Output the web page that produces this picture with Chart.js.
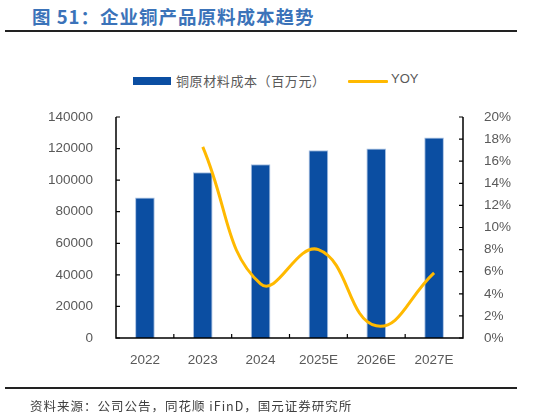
<!DOCTYPE html>
<html>
<head>
<meta charset="utf-8">
<script src="https://cdn.jsdelivr.net/npm/chart.js@4/dist/chart.umd.min.js"></script>
<style>
  html, body { margin: 0; padding: 0; background: #fff; }
  #wrap { position: relative; width: 533px; height: 418px; overflow: hidden; }
  #title { position: absolute; left: 32px; top: 3px; font: bold 18.5px "Noto Sans CJK SC", sans-serif; color: #3b73b9; white-space: nowrap; letter-spacing: 1px; }
  .rule { position: absolute; left: 5px; width: 512px; height: 2px; background: #222; }
  #legend { position: absolute; top: 71px; left: 133px; font: 13px "Noto Sans CJK SC", sans-serif; color: #595959; white-space: nowrap; }
  #legend span { position: absolute; top: 0; }
  .sw { position: absolute; }
  #source { position: absolute; left: 30px; top: 396px; font: 12.5px "Noto Sans CJK SC", sans-serif; color: #404040; white-space: nowrap; letter-spacing: 1px; }
  canvas { position: absolute; left: 0; top: 0; }
</style>
</head>
<body>
<div id="wrap">
  <div id="title">图 51：企业铜产品原料成本趋势</div>
  <div class="rule" style="top:30px"></div>
  <div id="legend">
    <div class="sw" style="left:0;top:6px;width:38px;height:8px;background:#0b4ea2"></div>
    <span style="left:43px;letter-spacing:0.6px">铜原材料成本（百万元）</span>
    <div class="sw" style="left:215px;top:9px;width:40px;height:3px;background:#ffb900;border-radius:1px"></div>
    <span style="left:258px;font-family:'Liberation Sans',Arial,sans-serif">YOY</span>
  </div>
  <canvas id="chart" width="533" height="418"></canvas>
  <div class="rule" style="top:387px"></div>
  <div id="source">资料来源：公司公告，同花顺 iFinD，国元证券研究所</div>
</div>
<script>
// 数据
const years = ['2022', '2023', '2024', '2025E', '2026E', '2027E'];
const costoCobre = [89000, 105000, 110000, 119000, 120000, 127000];
const yoy = [null, 17.3, 4.9, 8.0, 1.1, 5.9];
const leftTicks = [0, 20000, 40000, 60000, 80000, 100000, 120000, 140000];
const rightTicks = [0, 2, 4, 6, 8, 10, 12, 14, 16, 18, 20];

const tickFont = { family: 'Liberation Sans, Arial, sans-serif', size: 13.5 };
const gris = '#595959';

// ejes negros con marcas hacia adentro
const ejes = {
    id: 'ejes',
    afterDraw(chart) {
        const { ctx, chartArea: a, scales } = chart;
        ctx.save();
        ctx.strokeStyle = '#000';
        ctx.lineWidth = 1.5;
        ctx.beginPath();
        ctx.moveTo(a.left, a.top); ctx.lineTo(a.left, a.bottom);
        ctx.lineTo(a.right, a.bottom); ctx.lineTo(a.right, a.top);
        ctx.stroke();
        ctx.lineWidth = 1.2;
        ctx.beginPath();
        leftTicks.forEach(v => {
            const y = scales.y.getPixelForValue(v);
            ctx.moveTo(a.left, y); ctx.lineTo(a.left + 4, y);
        });
        rightTicks.forEach(v => {
            const y = scales.y1.getPixelForValue(v);
            ctx.moveTo(a.right, y); ctx.lineTo(a.right - 4, y);
        });
        const paso = (a.right - a.left) / years.length;
        for (let i = 1; i < years.length; i++) {
            const x = a.left + paso * i;
            ctx.moveTo(x, a.bottom); ctx.lineTo(x, a.bottom - 4);
        }
        ctx.stroke();
        ctx.restore();
    }
};

new Chart(document.getElementById('chart'), {
    data: {
        labels: years,
        datasets: [
            {
                type: 'line',
                label: 'YOY',
                data: yoy,
                yAxisID: 'y1',
                borderColor: '#ffb900',
                borderWidth: 3,
                pointRadius: 0,
                tension: 0.45,
                order: 0
            },
            {
                type: 'bar',
                label: '铜原材料成本（百万元）',
                data: costoCobre,
                yAxisID: 'y',
                backgroundColor: '#0b4ea2',
                borderColor: '#a9c1e3',
                borderWidth: { top: 1, left: 1, right: 1, bottom: 0 },
                barPercentage: 0.34,
                categoryPercentage: 1,
                order: 1
            }
        ]
    },
    options: {
        responsive: false,
        animation: false,
        layout: { padding: { top: 117, left: 0, right: 0, bottom: 0 } },
        plugins: { legend: { display: false }, tooltip: { enabled: false } },
        scales: {
            x: {
                offset: true,
                grid: { display: false },
                border: { display: false },
                ticks: { color: gris, font: tickFont, padding: 6 },
                afterFit(s) { s.height = 80; }
            },
            y: {
                position: 'left',
                min: 0, max: 140000,
                afterBuildTicks(s) { s.ticks = leftTicks.map(v => ({ value: v })); },
                grid: { display: false },
                border: { display: false },
                ticks: { color: gris, font: tickFont, padding: 15, callback: v => String(v) },
                afterFit(s) { s.width = 116; }
            },
            y1: {
                position: 'right',
                min: 0, max: 20,
                afterBuildTicks(s) { s.ticks = rightTicks.map(v => ({ value: v })); },
                grid: { display: false },
                border: { display: false },
                ticks: { color: gris, font: tickFont, padding: 13, callback: v => v + '%' },
                afterFit(s) { s.width = 70; }
            }
        }
    },
    plugins: [ejes]
});
</script>
</body>
</html>
